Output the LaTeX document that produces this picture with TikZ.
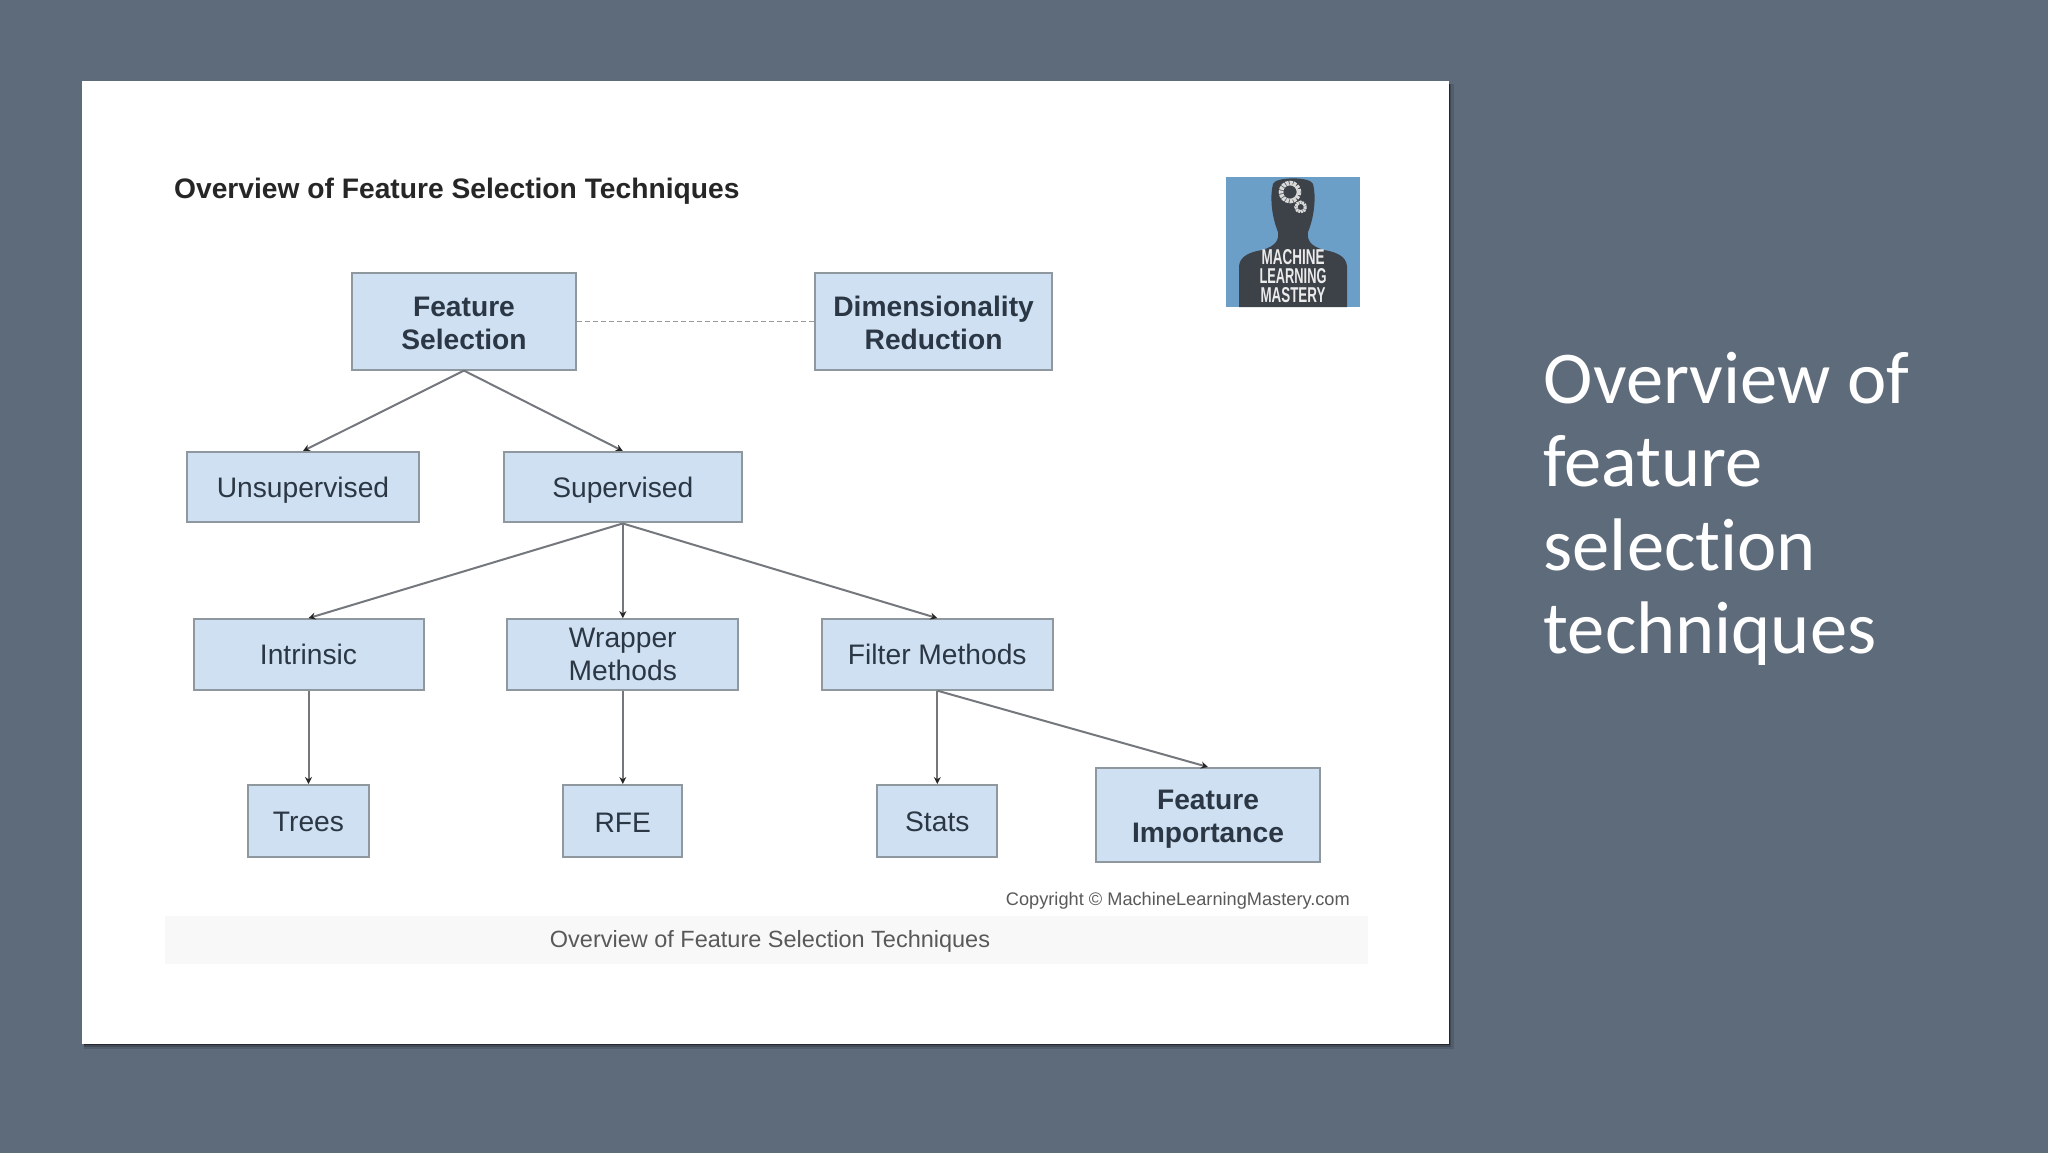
\documentclass[tikz,border=0pt]{standalone}
\usepackage{fontspec}
\usepackage{graphicx}
\setmainfont{Liberation Sans}
\newfontfamily\slidefont[Ligatures=NoCommon]{Carlito}
\usetikzlibrary{arrows.meta}
\definecolor{slidebg}{HTML}{5E6B7B}
\definecolor{boxfill}{HTML}{CFE0F2}
\definecolor{boxline}{HTML}{8F979F}
\definecolor{ink}{HTML}{2B3744}
\definecolor{edge}{HTML}{74787D}
\definecolor{logoblue}{HTML}{6C9FC7}
\definecolor{logodark}{HTML}{3D4248}
\definecolor{bandgray}{HTML}{F8F8F8}
\newcommand{\lift}[1]{\rule{0pt}{#1pt}}
\tikzset{
  x=1pt,y=-1pt,
  flow/.style={draw=boxline,line width=2pt,fill=boxfill,text=ink,align=center,inner sep=0pt,
    font=\fontsize{28.2}{33}\selectfont},
  strong/.style={flow,font=\fontsize{28.2}{33}\selectfont\bfseries},
  link/.style={draw=edge,line width=2pt,-{Stealth[length=7pt,width=7pt,color=black!85]}},
  tie/.style={draw=black!40,line width=1.6pt,dash pattern=on 5pt off 3pt},
  logotext/.style={text=white!92!black,inner sep=0pt,font=\bfseries},
}
\begin{document}
\begin{tikzpicture}
\useasboundingbox (0,0) rectangle (2048,1152);
\fill[slidebg] (-3,-3) rectangle (2051,1155);
% slide shadow and page
\fill[black,opacity=.12] (84,84) rectangle (1454,1049);
\fill[black,opacity=.2] (84,84) rectangle (1451,1046.5);
\fill[black,opacity=.45] (84,84) rectangle (1449.8,1045);
\fill[white] (82.3,81) rectangle (1448.5,1043.6);
% caption band
\fill[bandgray] (164.6,915.6) rectangle (1367.5,964);
% title
\node[anchor=west,inner sep=0pt,text=black!85,font=\fontsize{28.2}{32}\selectfont\bfseries] (title) at (174,191) {Overview of Feature Selection Techniques};
\node[anchor=center,inner sep=0pt,text=black!65,font=\fontsize{23.5}{26}\selectfont] (caption) at (770,941) {Overview of Feature Selection Techniques};
\node[anchor=east,inner sep=0pt,text=black!65,font=\fontsize{18.2}{22}\selectfont] (copy) at (1350,901) {Copyright © MachineLearningMastery.com};
% side title
\node[anchor=north west,inner sep=0pt,text=white,align=left,font=\slidefont\fontsize{74.5}{83.5}\selectfont] (side) at (1543.5,352) {Overview of\\feature\\selection\\techniques};
% logo
\fill[logoblue] (1226.4,176.5) rectangle (1359.6,307);
\fill[logodark] (1239,307) -- (1239,266) .. controls (1240,256) and (1250,252) .. (1262,250)
  .. controls (1276,246) and (1279,240) .. (1278,232) .. controls (1271,215) and (1270,195) .. (1273,184)
  .. controls (1275,176.5) and (1311,176.5) .. (1313,184) .. controls (1316,195) and (1315,215) .. (1308,232)
  .. controls (1307,240) and (1310,246) .. (1324,250) .. controls (1336,252) and (1346,256) .. (1347,266) -- (1347,307) -- cycle;
\draw[white!85!black,line width=4.6pt,dash pattern=on 3pt off .8pt] (1290,192) circle (9);
\draw[white!85!black,line width=3.2pt,dash pattern=on 2pt off .6pt] (1300.7,207) circle (4.8);
\node[logotext] (logoa) at (1293,257) {\resizebox{63pt}{15pt}{MACHINE}};
\node[logotext] (logob) at (1293,276) {\resizebox{67pt}{15pt}{LEARNING}};
\node[logotext] (logoc) at (1293,295) {\resizebox{65pt}{15pt}{MASTERY}};
% nodes
\node[strong,minimum width=224.7pt,minimum height=96.6pt] (fs) at (464,321.3) {\lift{23.5}Feature\\Selection};
\node[strong,minimum width=236.4pt,minimum height=96.6pt] (dr) at (933.6,321.3) {\lift{24}Dimensionality\\Reduction};
\node[flow,minimum width=232.5pt,minimum height=70.5pt] (un) at (303,487.2) {\lift{27}Unsupervised};
\node[flow,minimum width=238pt,minimum height=70.5pt] (su) at (622.8,487.2) {\lift{27}Supervised};
\node[flow,minimum width=230pt,minimum height=70.5pt] (in) at (308.5,654.4) {Intrinsic};
\node[flow,minimum width=231pt,minimum height=70.5pt] (wr) at (622.8,654.4) {Wrapper\\Methods};
\node[flow,minimum width=231pt,minimum height=70.5pt] (fi) at (937.3,654.4) {Filter Methods};
\node[flow,minimum width=121.5pt,minimum height=72pt] (tr) at (308.5,821) {\lift{22}Trees};
\node[flow,minimum width=119pt,minimum height=72pt] (rf) at (622.8,821) {\lift{22}RFE};
\node[flow,minimum width=120pt,minimum height=72pt] (st) at (937.3,821) {\lift{22}Stats};
\node[strong,minimum width=224.6pt,minimum height=94pt] (im) at (1208,815) {\lift{28}Feature\\Importance};
% connectors
\draw[tie] (fs.east) -- (dr.west);
\draw[link] (fs.south) -- (un.north);
\draw[link] (fs.south) -- (su.north);
\draw[link] (su.south) -- (in.north);
\draw[link] (su.south) -- (wr.north);
\draw[link] (su.south) -- (fi.north);
\draw[link] (in.south) -- (tr.north);
\draw[link] (wr.south) -- (rf.north);
\draw[link] (fi.south) -- (st.north);
\draw[link] (fi.south) -- (im.north);
\end{tikzpicture}
\end{document}
